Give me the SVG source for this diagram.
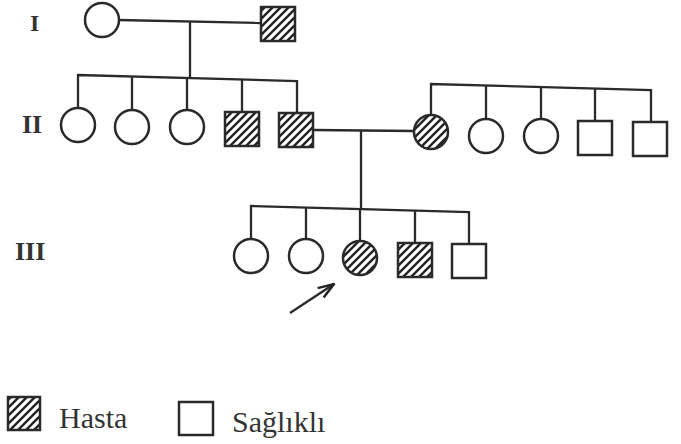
<svg xmlns="http://www.w3.org/2000/svg" width="681" height="444" viewBox="0 0 681 444">
<defs>
<pattern id="hatch" patternUnits="userSpaceOnUse" width="8" height="8">
<path d="M-2,2 L2,-2 M0,8 L8,0 M6,10 L10,6" stroke="#222" stroke-width="2.4"/>
</pattern>
<marker id="arrow" viewBox="0 0 18 14" refX="17" refY="7" markerWidth="18" markerHeight="14" markerUnits="userSpaceOnUse" orient="auto">
<path d="M1,1.5 L17,7 L1,12.5" fill="none" stroke="#222" stroke-width="2.4" stroke-linejoin="miter"/>
</marker>
<style>
.s{fill:#fff;stroke:#2a2a2a;stroke-width:2.5}
.a{fill:url(#hatch);stroke:#2a2a2a;stroke-width:2.5}
.l{fill:none;stroke:#2a2a2a;stroke-width:2.3}
.g{font-family:"Liberation Serif","Times New Roman",serif;font-weight:bold;fill:#333}
.t{font-family:"Liberation Serif","Times New Roman",serif;fill:#333;font-size:30px}
</style>
</defs>
<rect width="681" height="444" fill="#fff"/>
<g id="labels">
<text class="g" x="30" y="31" font-size="24">I</text>
<text class="g" x="22" y="133" font-size="26">II</text>
<text class="g" x="15" y="260" font-size="26">III</text>
</g>
<g id="connectors">
<path class="l" d="M118,20 L261,23"/>
<path class="l" d="M190,21 L190,78"/>
<path class="l" d="M78,108 L78,75 L297,81 L297,113"/>
<path class="l" d="M132,76.5 L132,110"/>
<path class="l" d="M187,78 L187,110"/>
<path class="l" d="M242,79.5 L242,112"/>
<path class="l" d="M313,130 L414,131"/>
<path class="l" d="M361,130 L361,208"/>
<path class="l" d="M431,115 L431,84 L651,90 L651,122"/>
<path class="l" d="M486,85.5 L486,119"/>
<path class="l" d="M541,87 L541,119"/>
<path class="l" d="M595,88.5 L595,121"/>
<path class="l" d="M251,239 L251,206 L469,212 L469,244"/>
<path class="l" d="M306,207.5 L306,239"/>
<path class="l" d="M360,209 L360,241"/>
<path class="l" d="M415,210.5 L415,243"/>
<path class="l" d="M290,313 L334,284" marker-end="url(#arrow)"/>
</g>
<g id="I-1"><circle class="s" cx="102" cy="20" r="17"/></g>
<g id="I-2"><rect class="a" x="261" y="7" width="34" height="34"/></g>
<g id="II-1"><circle class="s" cx="78" cy="125" r="17"/></g>
<g id="II-2"><circle class="s" cx="132" cy="127" r="17"/></g>
<g id="II-3"><circle class="s" cx="187" cy="127" r="17"/></g>
<g id="II-4"><rect class="a" x="225" y="112" width="34" height="34"/></g>
<g id="II-5"><rect class="a" x="279" y="113" width="34" height="34"/></g>
<g id="II-6"><circle class="a" cx="431" cy="132" r="17"/></g>
<g id="II-7"><circle class="s" cx="486" cy="136" r="17"/></g>
<g id="II-8"><circle class="s" cx="541" cy="136" r="17"/></g>
<g id="II-9"><rect class="s" x="578" y="121" width="34" height="34"/></g>
<g id="II-10"><rect class="s" x="633" y="122" width="34" height="34"/></g>
<g id="III-1"><circle class="s" cx="251" cy="256" r="17"/></g>
<g id="III-2"><circle class="s" cx="306" cy="256" r="17"/></g>
<g id="III-3"><circle class="a" cx="360" cy="258" r="17"/></g>
<g id="III-4"><rect class="a" x="398" y="243" width="34" height="34"/></g>
<g id="III-5"><rect class="s" x="452" y="244" width="34" height="34"/></g>
<g id="legend">
<rect class="a" x="8" y="397" width="32" height="33"/>
<text class="t" x="59" y="428">Hasta</text>
<rect class="s" x="179" y="402" width="34" height="33"/>
<text class="t" x="232" y="432">Sağlıklı</text>
</g>
</svg>
